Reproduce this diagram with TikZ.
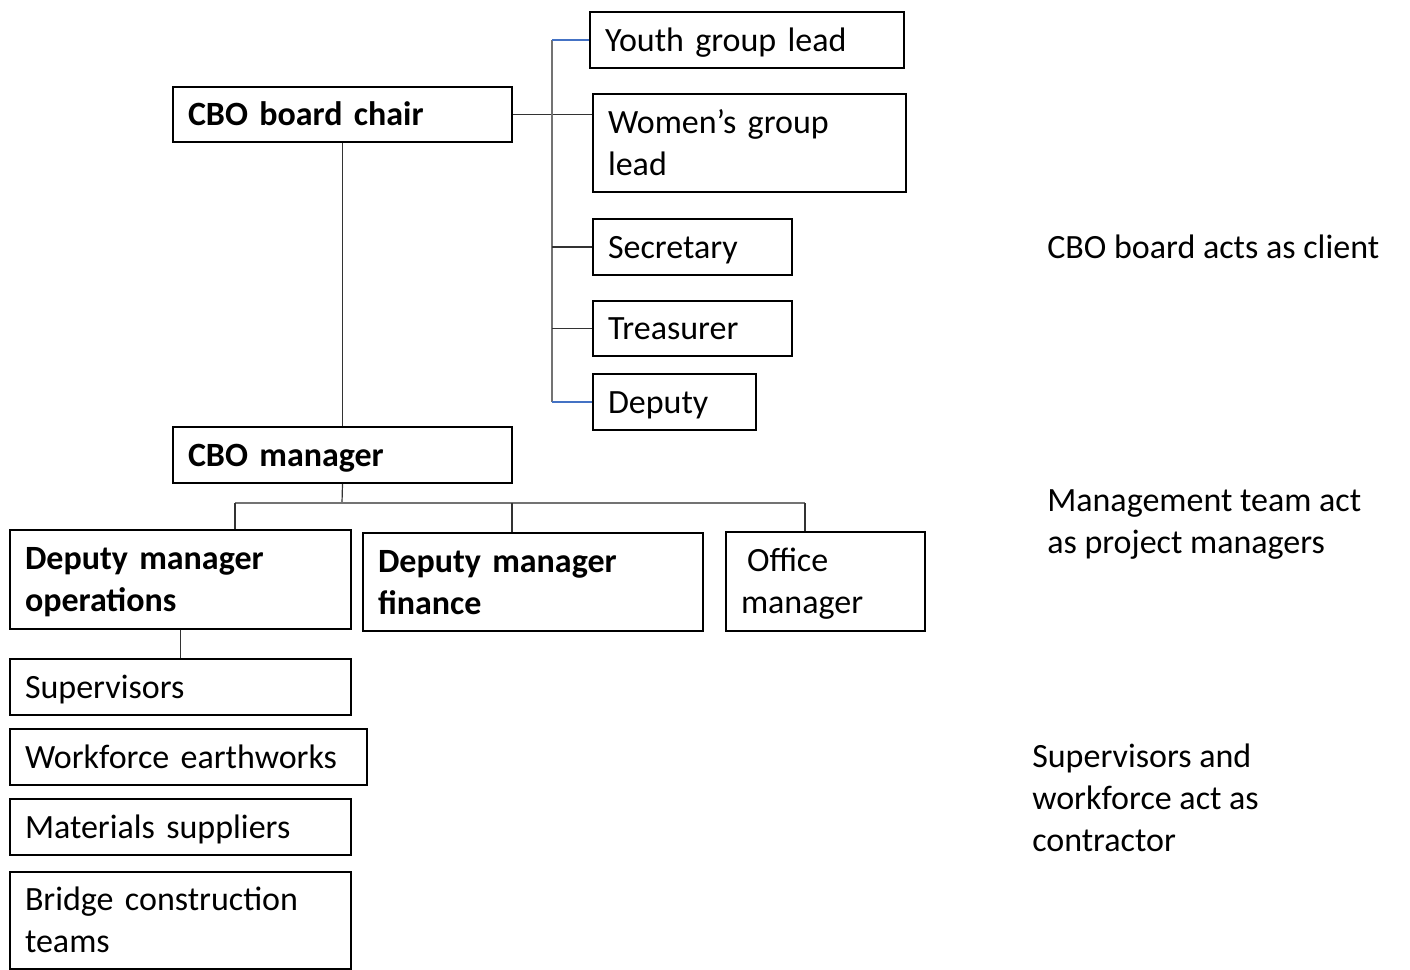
\documentclass[tikz,border=0pt]{standalone}
\usepackage{fontspec}
\setmainfont{Carlito}
\newcommand\fsz{\fontsize{25.5}{31.5}\selectfont}
\newcommand\st{\rule[-0.25em]{0pt}{1.15em}}
\newcommand\nl{\\\st}
\tikzset{
  boxst/.style={draw=black, line width=1.5pt, rectangle, inner xsep=11.25pt, inner ysep=0pt, align=left, font=\fsz},
  boldbox/.style={font=\fsz\bfseries},
  conn/.style={draw=black!80, line width=0.9pt},
  busline/.style={draw=black!55, line width=1.4pt},
  blueconn/.style={draw={rgb,255:red,68;green,114;blue,196}, line width=0.9pt},
  note/.style={anchor=west, align=left, inner sep=0pt, font=\fsz}
}
% name, x1, y1, x2, y2, extra style, text
\newcommand\mybox[7]{%
  \pgfmathsetmacro\bw{(#4-#2)*0.75}%
  \pgfmathsetmacro\bh{(#5-#3)*0.75}%
  \pgfmathsetmacro\tw{(#4-#2-30)*0.75}%
  \node[boxst,#6,minimum width=\bw pt,minimum height=\bh pt,text width=\tw pt,anchor=north west] (#1) at (#2,#3) {\st#7};}
\begin{document}
\begin{tikzpicture}[x=0.75pt,y=-0.75pt]
\useasboundingbox (0,0) rectangle (1410,970);
% boxes
\mybox{chair}{172}{86}{511}{141}{boldbox}{CBO board chair}
\mybox{youth}{589}{11}{903}{67}{}{Youth group lead}
\mybox{women}{592}{93}{905}{191}{}{Women’s group\nl lead}
\mybox{secr}{592}{218}{791}{274}{}{Secretary}
\mybox{treas}{592}{300}{791}{355}{}{Treasurer}
\mybox{deputy}{592}{373}{755}{429}{}{Deputy}
\mybox{manager}{172}{426}{511}{482}{boldbox}{CBO manager}
\mybox{ops}{9}{529}{350}{628}{boldbox}{Deputy manager\nl operations}
\mybox{fin}{362}{532}{702}{630}{boldbox}{Deputy manager\nl finance}
\mybox{office}{725}{531}{924}{630}{}{\hspace{4.5pt}Office\nl manager}
\mybox{sup}{9}{658}{350}{714}{}{Supervisors}
\mybox{work}{9}{728}{366}{784}{}{Workforce earthworks}
\mybox{mat}{9}{798}{350}{854}{}{Materials suppliers}
\mybox{bridge}{9}{871}{350}{968}{}{Bridge construction\nl teams}
% board connectors
\coordinate (bt) at (552,40);
\coordinate (bb) at (552,402);
\draw[conn] (chair.south) -- (manager.north);
\draw[conn] (chair.east) -- (chair.east -| women.west);
\draw[busline] (bt) -- (bb);
\draw[blueconn] (bt) -- (bt -| youth.west);
\draw[blueconn] (bb) -- (bb -| deputy.west);
\draw[conn] (secr.west -| bt) -- (secr.west);
\draw[conn] (treas.west -| bt) -- (treas.west);
% management connectors
\coordinate (mj) at (342,503);
\coordinate (m1) at (235,503);
\coordinate (m2) at (512,503);
\coordinate (m3) at (805,503);
\draw[conn] (manager.south) -- (mj);
\draw[busline, line width=1.2pt] (m1) -- (m3);
\draw[conn] (m1) -- (m1 |- ops.north);
\draw[conn] (m2) -- (m2 |- fin.north);
\draw[conn] (m3) -- (m3 |- office.north);
\draw[conn] (ops.south) -- (sup.north);
% notes
\node[note] (n1) at (1047,247) {CBO board acts as client};
\node[note] (n2) at (1047,525) {Management team act\\as project managers};
\node[note] (n3) at (1032,798) {Supervisors and\\workforce act as\\contractor};
\end{tikzpicture}
\end{document}
